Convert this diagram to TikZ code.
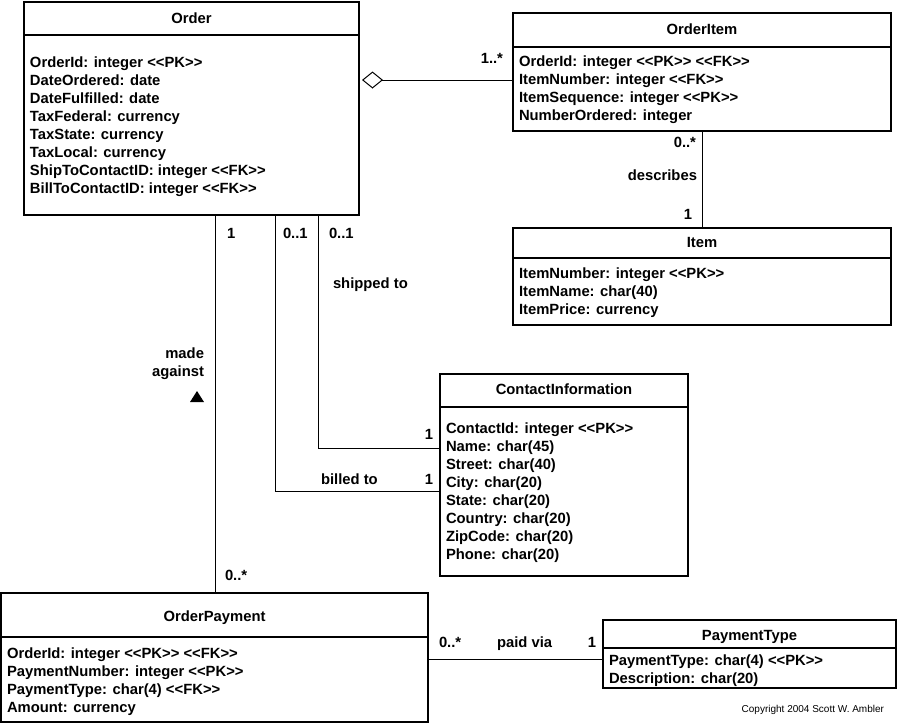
\documentclass[tikz,border=0pt]{standalone}
\usepackage{fontspec}
\newfontfamily\umlfont{Liberation Sans}
\usetikzlibrary{arrows.meta}
\begin{document}
\begin{tikzpicture}[x=1pt,y=-1pt,
  every node/.style={inner sep=0pt, outer sep=0pt},
  txt/.style={font=\umlfont\bfseries\fontsize{14.8}{18}\selectfont},
  hdr/.style={txt, anchor=base},
  attrs/.style={txt, anchor=north west, align=left},
  cls/.style={draw, line width=2pt, anchor=north west},
  sep/.style={line width=2pt},
  conn/.style={line width=1pt}]
\useasboundingbox (0,0) rectangle (898,724);

% Order
\node[cls, minimum width=335, minimum height=213] (order) at (24,2) {};
\draw[sep] (order.west |- 0,35) -- (order.east |- 0,35);
\node[hdr] (orderh) at (191.5,23.3) {Order};
\node[attrs] (ordera) at (30,54.7) {\strut OrderId: integer <<PK>>\\DateOrdered: date\\DateFulfilled: date\\TaxFederal: currency\\TaxState: currency\\TaxLocal: currency\\ShipToContactID: integer <<FK>>\\BillToContactID: integer <<FK>>};

% OrderItem
\node[cls, minimum width=378, minimum height=118] (oitem) at (513,13) {};
\draw[sep] (oitem.west |- 0,47) -- (oitem.east |- 0,47);
\node[hdr] (oitemh) at (702,34.3) {OrderItem};
\node[attrs] (oitema) at (519,53.7) {\strut OrderId: integer <<PK>> <<FK>>\\ItemNumber: integer <<FK>>\\ItemSequence: integer <<PK>>\\NumberOrdered: integer};

% Item
\node[cls, minimum width=378, minimum height=97] (item) at (513,228) {};
\draw[sep] (item.west |- 0,258) -- (item.east |- 0,258);
\node[hdr] (itemh) at (702,247.3) {Item};
\node[attrs] (itema) at (519,265.7) {\strut ItemNumber: integer <<PK>>\\ItemName: char(40)\\ItemPrice: currency};

% ContactInformation
\node[cls, minimum width=248, minimum height=202] (contact) at (440,374) {};
\draw[sep] (contact.west |- 0,407) -- (contact.east |- 0,407);
\node[hdr] (contacth) at (564,394.3) {ContactInformation};
\node[attrs] (contacta) at (446,420.7) {\strut ContactId: integer <<PK>>\\Name: char(45)\\Street: char(40)\\City: char(20)\\State: char(20)\\Country: char(20)\\ZipCode: char(20)\\Phone: char(20)};

% OrderPayment
\node[cls, minimum width=427, minimum height=129] (opay) at (1,593) {};
\draw[sep] (opay.west |- 0,637) -- (opay.east |- 0,637);
\node[hdr] (opayh) at (214.5,621.3) {OrderPayment};
\node[attrs] (opaya) at (7,645.7) {\strut OrderId: integer <<PK>> <<FK>>\\PaymentNumber: integer <<PK>>\\PaymentType: char(4) <<FK>>\\Amount: currency};

% PaymentType
\node[cls, minimum width=293, minimum height=68] (ptype) at (603,620) {};
\draw[sep] (ptype.west |- 0,648) -- (ptype.east |- 0,648);
\node[hdr] (ptypeh) at (749.5,640.3) {PaymentType};
\node[attrs] (ptypea) at (609,652.7) {\strut PaymentType: char(4) <<PK>>\\Description: char(20)};

% aggregation Order <>-- OrderItem
\coordinate (aggL) at (362,80);
\draw[conn, {Diamond[open,length=21pt,width=17pt]}-] (aggL) -- (aggL -| oitem.west);
\node[txt, anchor=base east] (m1) at (503,63) {1..*};

% OrderItem -- Item
\draw[conn] (oitem.south) -- (item.north);
\node[txt, anchor=base east] (m2) at (696,147) {0..*};
\node[txt, anchor=base east] (l1) at (697,180) {describes};
\node[txt, anchor=base east] (m3) at (692,219) {1};

% Order -- ContactInformation (shipped to)
\draw[conn] ([xshift=127]order.south) |- ([yshift=27]contact.west);
\node[txt, anchor=base west] (m4) at (329,238) {0..1};
\node[txt, anchor=base west] (l2) at (333,288) {shipped to};
\node[txt, anchor=base east] (m5) at (433,439) {1};

% Order -- ContactInformation (billed to)
\draw[conn] ([xshift=83.5]order.south) |- ([yshift=-16]contact.west);
\node[txt, anchor=base west] (m6) at (283,238) {0..1};
\node[txt, anchor=base west] (l3) at (321,484) {billed to};
\node[txt, anchor=base east] (m7) at (433,484) {1};

% Order -- OrderPayment (made against)
\draw[conn] ([xshift=23.5]order.south) -- ([xshift=23.5]order.south |- opay.north);
\node[txt, anchor=base west] (m8) at (227,238) {1};
\node[txt, anchor=north east, align=right] (l4) at (204,345.7) {\strut made\\against};
\fill (197,391) -- (204,402) -- (190,402) -- cycle;
\node[txt, anchor=base west] (m9) at (225,580) {0..*};

% OrderPayment -- PaymentType (paid via)
\draw[conn] ([yshift=-5]ptype.west) -- ([yshift=-5]ptype.west -| opay.east);
\node[txt, anchor=base west] (m10) at (439,647) {0..*};
\node[txt, anchor=base west] (l5) at (497,647) {paid via};
\node[txt, anchor=base east] (m11) at (596,647) {1};

\node[font=\umlfont\fontsize{10}{12}\selectfont, anchor=base east] (copy) at (884,712.5) {Copyright 2004 Scott W. Ambler};
\end{tikzpicture}
\end{document}
